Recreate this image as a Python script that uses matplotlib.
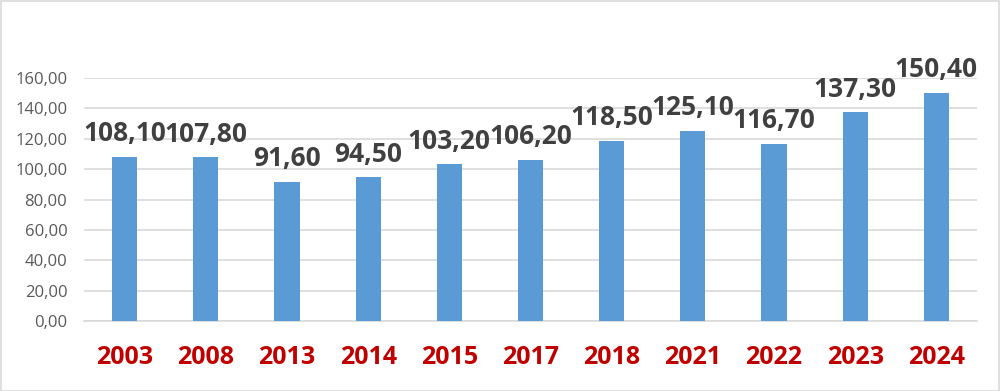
import matplotlib
matplotlib.use("Agg")
import matplotlib.pyplot as plt
from matplotlib.patches import Rectangle

years = ["2003", "2008", "2013", "2014", "2015", "2017", "2018", "2021", "2022", "2023", "2024"]
values = [108.10, 107.80, 91.60, 94.50, 103.20, 106.20, 118.50, 125.10, 116.70, 137.30, 150.40]
yticks = [0, 20, 40, 60, 80, 100, 120, 140, 160]

def fmt(v):
    return f"{v:.2f}".replace(".", ",")

fig = plt.figure(figsize=(10, 3.91), dpi=100)
fig.patch.set_facecolor("white")
fig.add_artist(Rectangle((0.0005, 0.001), 0.998, 0.997, transform=fig.transFigure,
                         fill=False, edgecolor="#D9D9D9", linewidth=1.2))

ax = fig.add_axes([0.084, 0.179, 0.893, 0.6215])
x = list(range(len(years)))
ax.bar(x, values, width=0.31, color="#5B9BD5", zorder=3)

ax.set_xlim(-0.5, len(years) - 0.5)
ax.set_ylim(0, 160)
ax.set_yticks(yticks)
ax.set_yticklabels([fmt(v) for v in yticks], fontsize=12, color="#595959", family="Open Sans")
ax.yaxis.grid(True, color="#D9D9D9", linewidth=1.2, zorder=0)
ax.tick_params(axis="y", length=0, pad=12)
ax.set_xticks(x)
ax.set_xticklabels(years, fontsize=18, color="#C00000", fontweight="bold", family="Open Sans")
ax.tick_params(axis="x", length=0, pad=17)
for s in ["top", "right", "left"]:
    ax.spines[s].set_visible(False)
ax.spines["bottom"].set_color("#D9D9D9")
ax.spines["bottom"].set_linewidth(1.2)

for xi, v in zip(x, values):
    ax.annotate(fmt(v), (xi, v), xytext=(0, 7), textcoords="offset points",
                ha="center", va="bottom", fontsize=19, fontweight="bold",
                color="#404040", family="Open Sans")

fig.savefig("out.png", dpi=100, facecolor="white")
